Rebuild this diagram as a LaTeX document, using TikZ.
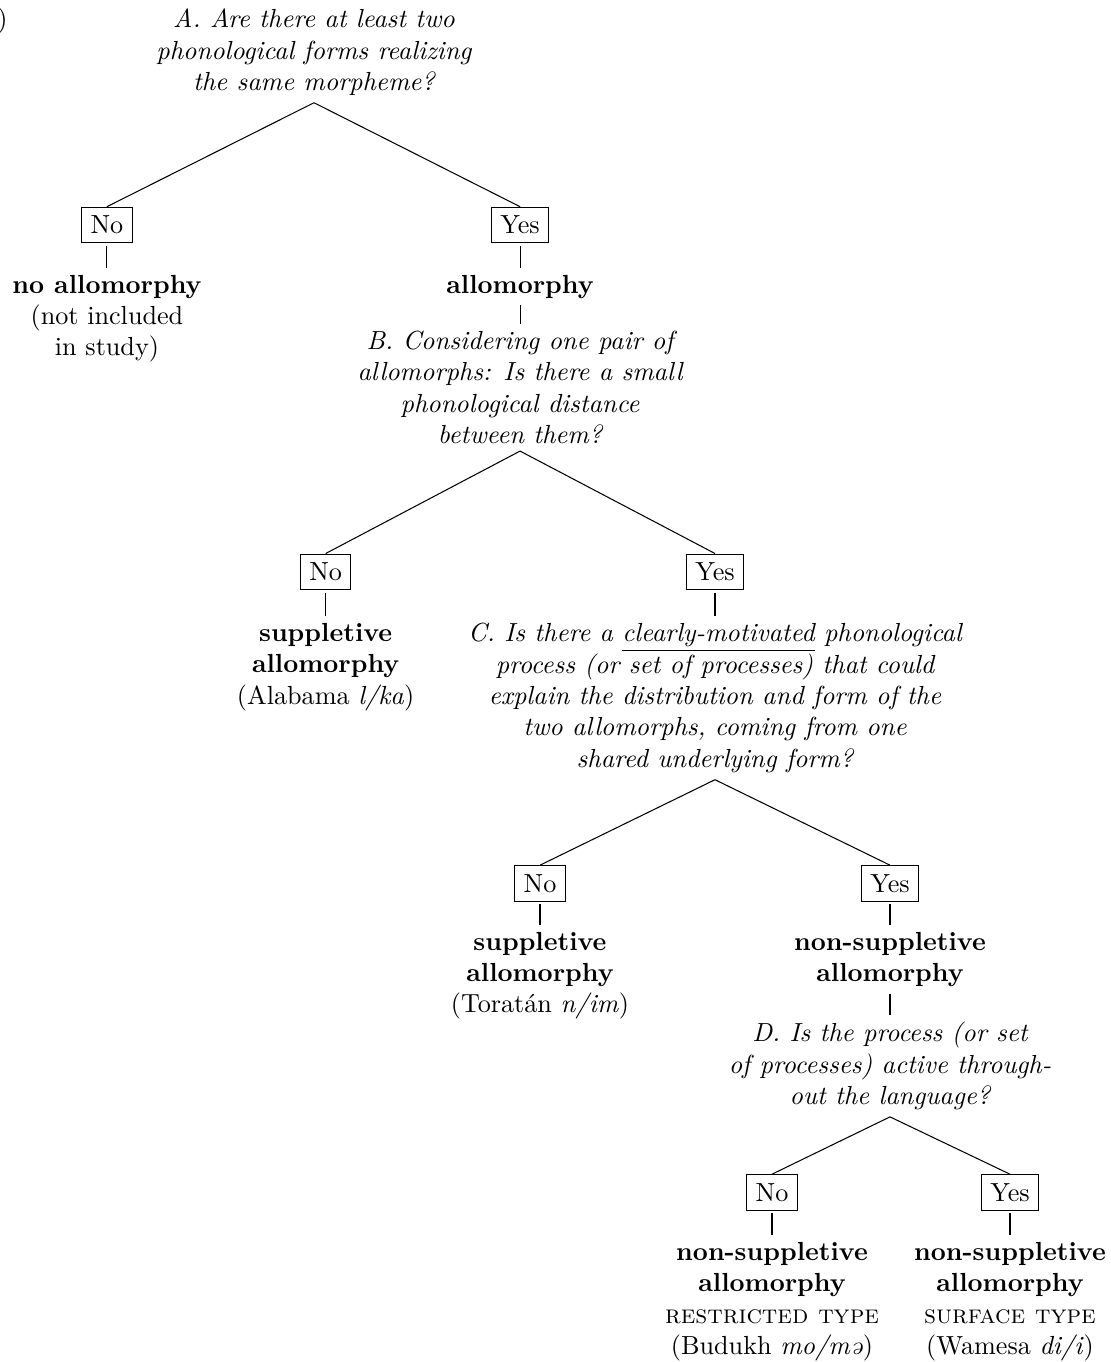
\documentclass[tikz,border=0pt]{standalone}
\usepackage{tikz}
\usetikzlibrary{positioning}
\usetikzlibrary{calc}

\tikzset{
  qnode/.style={align=center, font=\itshape, inner sep=2.5pt, anchor=north},
  ansbox/.style={draw, inner sep=0.3333em},
  leaf/.style={align=center, inner sep=2.5pt, anchor=north},
}

\begin{document}
\begin{tikzpicture}

  \useasboundingbox (0,0) rectangle (14.912,-18.297);

  % label of the panel, cut at the left edge
  \node[anchor=base east, inner sep=0pt] (panel) at (0.107,-0.363) {)};

  % question A
  \node[qnode] (qA) at (4.218,-0.027)
    {A. Are there at least two\\phonological forms realizing\\the same morpheme?};
  \node[ansbox] (noA)  at (1.437,-3.023) {No};
  \node[ansbox] (yesA) at (6.986,-3.023) {Yes};
  \node[leaf] (noallo) at (1.437,-3.600)
    {\textbf{no allomorphy}\\(not included\\in study)};
  \node[leaf] (allo) at (6.986,-3.600) {\textbf{allomorphy}};

  % question B
  \node[qnode] (qB) at (6.986,-4.353)
    {B. Considering one pair of\\allomorphs: Is there a small\\phonological distance\\between them?};
  \node[ansbox] (noB)  at (4.375,-7.682) {No};
  \node[ansbox] (yesB) at (9.605,-7.682) {Yes};
  \node[leaf] (suppA) at (4.375,-8.278)
    {\textbf{suppletive}\\\textbf{allomorphy}\\(Alabama \textit{l/ka})};

  % question C
  \node[qnode] (qC) at (9.605,-8.278)
    {C. Is there a \underline{clearly-motivated} phonological\\process (or set of processes) that could\\explain the distribution and form of the\\two allomorphs, coming from one\\shared underlying form?};
  \node[ansbox] (noC)  at (7.254,-11.869) {No};
  \node[ansbox] (yesC) at (11.956,-11.869) {Yes};
  \node[leaf] (suppB) at (7.254,-12.426)
    {\textbf{suppletive}\\\textbf{allomorphy}\\(Toratán \textit{n/im})};
  \node[leaf] (nonsupp) at (11.956,-12.426)
    {\textbf{non-suppletive}\\\textbf{allomorphy}};

  % question D
  \node[qnode] (qD) at (11.956,-13.635)
    {D. Is the process (or set\\of processes) active through-\\out the language?};
  \node[ansbox] (noD)  at (10.371,-16.020) {No};
  \node[ansbox] (yesD) at (13.568,-16.020) {Yes};
  \node[leaf] (restr) at (10.371,-16.591)
    {\textbf{non-suppletive}\\\textbf{allomorphy}\\\textsc{restricted type}\\(Budukh \textit{mo/mə})};
  \node[leaf] (surf) at (13.568,-16.591)
    {\textbf{non-suppletive}\\\textbf{allomorphy}\\\textsc{surface type}\\(Wamesa \textit{di/i})};

  % branches below the questions
  \foreach \q/\a in {qA/noA, qA/yesA, qB/noB, qB/yesB, qC/noC, qC/yesC, qD/noD, qD/yesD}
    \draw (\q.south) -- (\a.north);

  % stems below the answers
  \foreach \a/\b in {noA/noallo, yesA/allo, noB/suppA, yesB/qC, noC/suppB, yesC/nonsupp, noD/restr, yesD/surf}
    \draw[shorten <=1pt] (\a.south) -- (\b.north);
  \draw (allo.south) -- (qB.north);
  \draw (nonsupp.south) -- (qD.north);

\end{tikzpicture}
\end{document}
